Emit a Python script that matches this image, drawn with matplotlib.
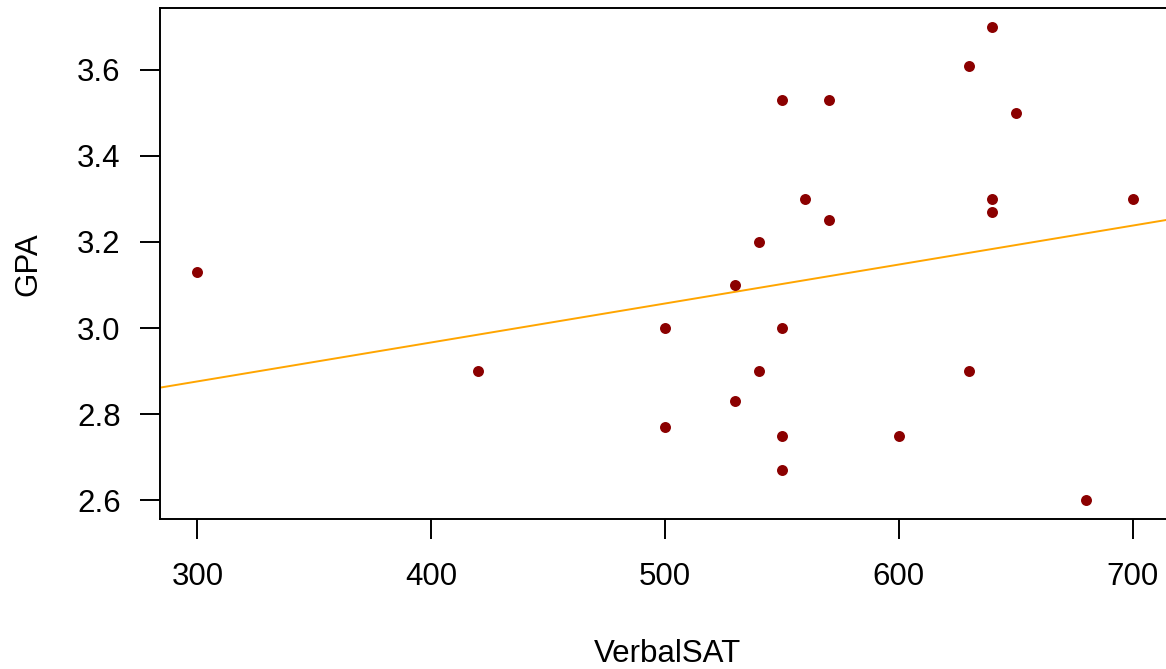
import numpy as np
import matplotlib

matplotlib.use("Agg")
import matplotlib.pyplot as plt

# Verbal SAT score and GPA for each student
verbal_sat = [300, 420, 500, 500, 530, 530, 540, 540, 550, 550, 550, 550,
              560, 570, 570, 600, 630, 630, 640, 640, 640, 650, 680, 700]
gpa = [3.13, 2.90, 3.00, 2.77, 3.10, 2.83, 3.20, 2.90, 3.53, 3.00, 2.75, 2.67,
       3.30, 3.53, 3.25, 2.75, 3.61, 2.90, 3.70, 3.30, 3.27, 3.50, 2.60, 3.30]

x_ticks = [300, 400, 500, 600, 700]
y_ticks = [2.6, 2.8, 3.0, 3.2, 3.4, 3.6]

plt.rcParams["font.family"] = ["Liberation Sans", "DejaVu Sans"]

W, H = 1166, 669
FS = 22.5
fig = plt.figure(figsize=(W / 100, H / 100), dpi=100)
ax = fig.add_axes([160 / W, 150 / H, 1010 / W, 511 / H])

x = np.asarray(verbal_sat, dtype=float)
y = np.asarray(gpa, dtype=float)

# least-squares line, like abline(lm(GPA ~ VerbalSAT))
slope, intercept = np.polyfit(x, y, 1)

# R-style 4% padding around the data range
xpad = 0.04 * (x.max() - x.min())
ypad = 0.04 * (y.max() - y.min())
ax.set_xlim(x.min() - xpad, x.max() + xpad)
ax.set_ylim(y.min() - ypad, y.max() + ypad)

xs = np.array(ax.get_xlim())
ax.plot(xs, intercept + slope * xs, color="#FFA500", lw=1.4, zorder=2)
ax.plot(x, y, "o", color="#8B0000", markersize=7.9, markeredgewidth=0, zorder=3)

ax.set_xticks(x_ticks)
ax.set_xticklabels([str(v) for v in x_ticks])
ax.set_yticks(y_ticks)
ax.set_yticklabels([f"{v:.1f}" for v in y_ticks])
ax.tick_params(axis="both", direction="out", length=14.4, width=1.4,
               labelsize=FS, color="black")
ax.tick_params(axis="x", pad=16.5)
ax.tick_params(axis="y", pad=14)
for sp in ax.spines.values():
    sp.set_linewidth(1.4)

fig.text(667 / W, 1 - 662 / H, "VerbalSAT", ha="center", va="baseline",
         fontsize=FS)
fig.text(28 / W, 1 - 264 / H, "GPA", ha="center", va="center", fontsize=FS,
         rotation=90)

fig.savefig("out.png", dpi=100)
